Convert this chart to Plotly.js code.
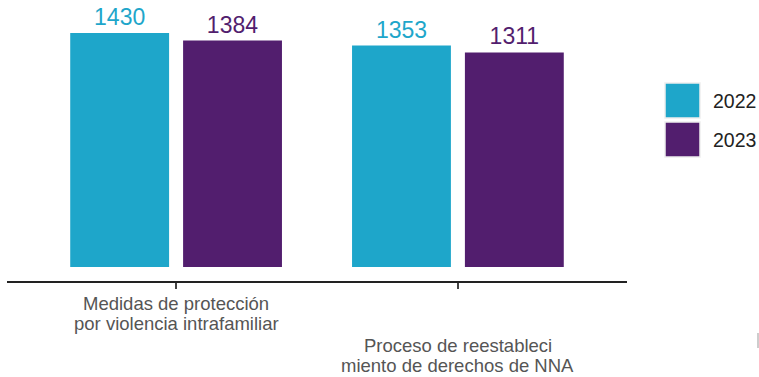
<!DOCTYPE html>
<html>
<head>
<meta charset="utf-8">
<script src="https://cdn.plot.ly/plotly-3.0.1.min.js"></script>
<style>html,body{margin:0;padding:0;background:#fff;}#chart{width:759px;height:377px;}</style>
</head>
<body>
<div id="chart"></div>
<script>
const categoryLines = [
  ["Medidas de protección", "por violencia intrafamiliar"],
  ["Proceso de reestableci", "miento de derechos de NNA"]
];
const categories = categoryLines.map(l => l.join(" "));
const seriesNames = ["2022", "2023"];
const values2022 = [1430, 1353];
const values2023 = [1384, 1311];
const colors = ["#1EA6CA", "#521E6E"];

const W = 759, H = 377;
const M = {l: 7, r: 132, t: 25, b: 96};
const pw = W - M.l - M.r, ph = H - M.t - M.b;
const px2x = p => (p - M.l) / pw;
const px2y = p => (H - M.b - p) / ph;

const font = "Liberation Sans, Arial, sans-serif";
const seriesValues = [values2022, values2023];

const traces = seriesNames.map((name, i) => ({
  type: "bar",
  name: name,
  x: categories,
  y: seriesValues[i],
  marker: {color: colors[i]},
  texttemplate: "%{y}",
  textposition: "outside",
  cliponaxis: false,
  textfont: {family: font, size: 23, color: colors[i]},
  hoverinfo: "skip"
}));

const shapes = [], annotations = [];
const legTop = [83, 122];
seriesNames.forEach((name, i) => {
  shapes.push({
    type: "rect", xref: "paper", yref: "paper",
    x0: px2x(665), x1: px2x(700), y0: px2y(legTop[i] + 35), y1: px2y(legTop[i]),
    fillcolor: colors[i], line: {color: "#eeeeee", width: 1.5}
  });
  annotations.push({
    xref: "paper", yref: "paper", x: px2x(711), y: px2y(legTop[i] + 18),
    xanchor: "left", yanchor: "middle", showarrow: false,
    text: name, font: {family: font, size: 19.5, color: "#222"}
  });
});

// category labels, one annotation per line (tight line spacing, second label staggered)
const labelCenters = [[303, 323], [345, 365]];
categoryLines.forEach((lines, c) => {
  lines.forEach((line, j) => {
    annotations.push({
      xref: "x", yref: "paper", x: categories[c], y: px2y(labelCenters[c][j]),
      xanchor: "center", yanchor: "middle", showarrow: false, borderpad: 0,
      text: line, font: {family: font, size: 18.5, color: "#555"}
    });
  });
});

// faint edge mark at right border
shapes.push({
  type: "line", xref: "paper", yref: "paper",
  x0: px2x(758), x1: px2x(758), y0: px2y(333), y1: px2y(348),
  line: {color: "#bdbdbd", width: 1.5}
});

const layout = {
  width: W, height: H,
  margin: M,
  paper_bgcolor: "#fff", plot_bgcolor: "#fff",
  showlegend: false,
  barmode: "group",
  bargap: 0.199,
  bargroupgap: 0.124,
  font: {family: font},
  xaxis: {
    type: "category",
    range: [-0.6, 1.6],
    showline: true, linecolor: "#222", linewidth: 1.5,
    ticks: "outside", ticklen: 6, tickcolor: "#444", tickwidth: 2,
    showticklabels: false,
    showgrid: false, zeroline: false
  },
  yaxis: {
    range: [-86, 1479],
    visible: false, showgrid: false, zeroline: false
  },
  shapes: shapes,
  annotations: annotations
};

Plotly.newPlot("chart", traces, layout, {displayModeBar: false, staticPlot: true});
</script>
</body>
</html>
